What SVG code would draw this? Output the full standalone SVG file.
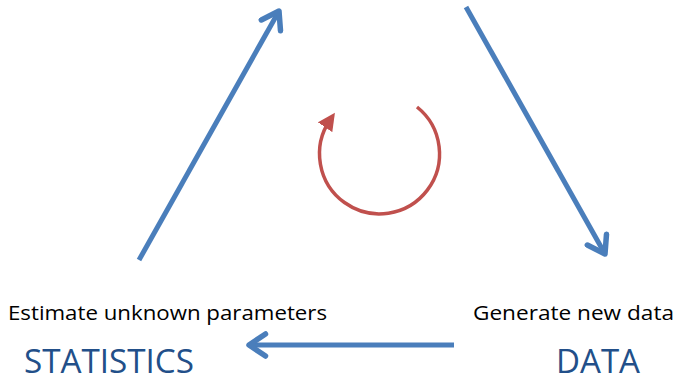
<svg xmlns="http://www.w3.org/2000/svg" width="677" height="382" viewBox="0 0 677 382">
<defs>
<style>
.blue{stroke:#4A7EBB;stroke-width:5;fill:none;stroke-linecap:butt}
.lbl{font-family:"Open Sans","Noto Sans",sans-serif;font-size:20px;fill:#000}
.big{font-family:"Open Sans","Noto Sans",sans-serif;font-size:32px;fill:#224F89}
</style>
<marker id="ah" viewBox="0 0 10 10" refX="8" refY="5" markerWidth="5.5" markerHeight="5.5" orient="auto" markerUnits="strokeWidth">
<polyline points="2,1 8,5 2,9" fill="none" stroke="#4A7EBB" stroke-width="2" stroke-linecap="round" stroke-linejoin="round"/>
</marker>
<marker id="rh" viewBox="0 0 10 10" refX="5" refY="5" markerWidth="5" markerHeight="5" orient="auto" markerUnits="strokeWidth">
<path d="M0,0 L10,5 L0,10 z" fill="#C0504D"/>
</marker>
</defs>
<g id="connectors">
<line class="blue" x1="139" y1="260" x2="279" y2="11" marker-end="url(#ah)"/>
<line class="blue" x1="466" y1="7" x2="605" y2="254" marker-end="url(#ah)"/>
<line class="blue" x1="454" y1="345" x2="249" y2="345" marker-end="url(#ah)"/>
<path id="cycle" d="M417,107 A60,60 0 1 1 330,120" fill="none" stroke="#C0504D" stroke-width="3.5" marker-end="url(#rh)"/>
</g>
<g id="statistics">
<text class="lbl" x="8" y="320" textLength="319" lengthAdjust="spacingAndGlyphs">Estimate unknown parameters</text>
<text class="big" x="24" y="373" textLength="170" lengthAdjust="spacingAndGlyphs">STATISTICS</text>
</g>
<g id="data">
<text class="lbl" x="473" y="320" textLength="201" lengthAdjust="spacingAndGlyphs">Generate new data</text>
<text class="big" x="556" y="373" textLength="84" lengthAdjust="spacingAndGlyphs">DATA</text>
</g>
</svg>
